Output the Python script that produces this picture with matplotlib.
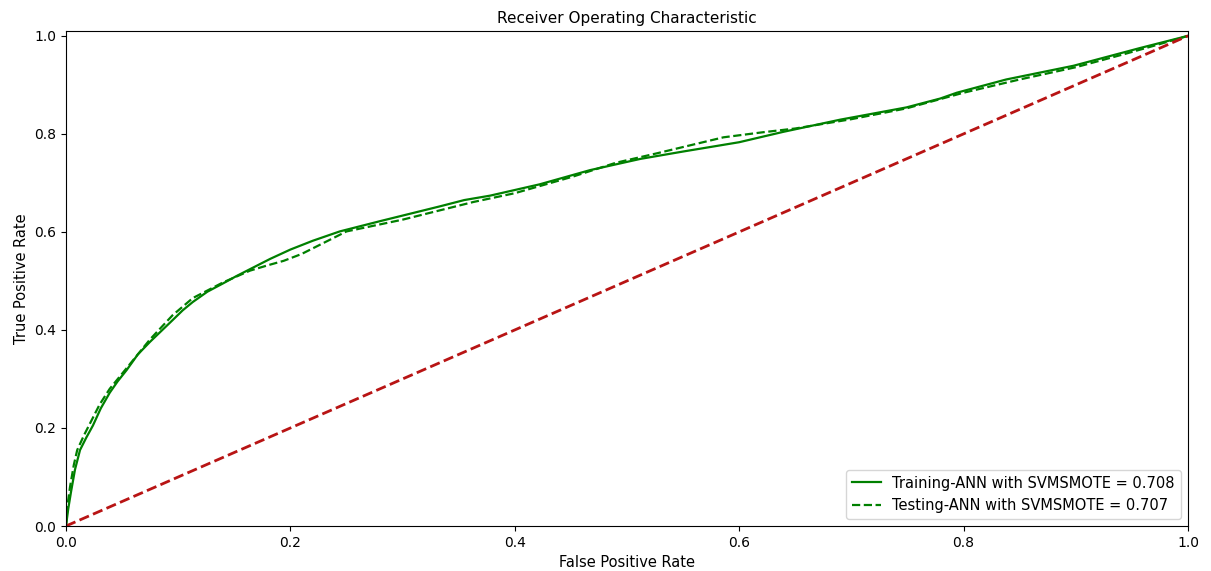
import matplotlib
matplotlib.use("Agg")
import matplotlib.pyplot as plt

# Training ROC curve (solid)
train_fpr = [0.0, 0.002, 0.0045, 0.008, 0.0125, 0.018, 0.024, 0.031, 0.039, 0.046,
             0.054, 0.064, 0.075, 0.085, 0.095, 0.104, 0.113, 0.126, 0.14, 0.152,
             0.164, 0.182, 0.2, 0.22, 0.244, 0.28, 0.333, 0.355, 0.378, 0.422,
             0.467, 0.512, 0.55, 0.6, 0.639, 0.69, 0.749, 0.779, 0.794, 0.838,
             0.898, 0.957, 1.0]
train_tpr = [0.0, 0.035, 0.07, 0.115, 0.155, 0.18, 0.205, 0.24, 0.272, 0.295,
             0.318, 0.35, 0.376, 0.398, 0.42, 0.44, 0.457, 0.478, 0.495, 0.51,
             0.524, 0.545, 0.564, 0.582, 0.601, 0.622, 0.652, 0.665, 0.674, 0.697,
             0.726, 0.749, 0.764, 0.783, 0.804, 0.829, 0.854, 0.872, 0.884, 0.911,
             0.939, 0.975, 1.0]

# Testing ROC curve (dashed)
test_fpr = [0.0, 0.0015, 0.0036, 0.007, 0.01, 0.016, 0.022, 0.03, 0.039, 0.054,
            0.075, 0.095, 0.113, 0.14, 0.164, 0.18, 0.194, 0.21, 0.23, 0.25,
            0.3, 0.363, 0.4, 0.452, 0.49, 0.526, 0.586, 0.62, 0.65, 0.7,
            0.749, 0.8, 0.85, 0.9, 0.942, 0.97, 1.0]
test_tpr = [0.0, 0.045, 0.08, 0.125, 0.155, 0.185, 0.212, 0.248, 0.28, 0.322,
            0.381, 0.43, 0.465, 0.497, 0.521, 0.532, 0.541, 0.555, 0.578, 0.601,
            0.625, 0.661, 0.679, 0.713, 0.741, 0.76, 0.793, 0.803, 0.811, 0.83,
            0.852, 0.884, 0.911, 0.936, 0.962, 0.98, 1.0]

diag = [0.0, 1.0]

train_label = "Training-ANN with SVMSMOTE = 0.708"
test_label = "Testing-ANN with SVMSMOTE = 0.707"

fig = plt.figure(figsize=(12.11, 5.71), dpi=100)
ax = fig.add_axes([0.0545, 0.0788, 0.9265, 0.867])

ax.plot(train_fpr, train_tpr, color="green", lw=1.6, label=train_label)
ax.plot(test_fpr, test_tpr, color="green", lw=1.6, ls="--", label=test_label)
ax.plot(diag, diag, color="#b81414", lw=2, ls="--")

ax.set_xlim(0, 1)
ax.set_ylim(0, 1.01)
ax.set_xticks([0.0, 0.2, 0.4, 0.6, 0.8, 1.0])
ax.set_yticks([0.0, 0.2, 0.4, 0.6, 0.8, 1.0])
ax.tick_params(labelsize=10)
ax.set_title("Receiver Operating Characteristic", fontsize=11)
ax.set_xlabel("False Positive Rate", fontsize=10.5)
ax.set_ylabel("True Positive Rate", fontsize=10.5)
ax.legend(loc="lower right", fontsize=10.5)

fig.savefig("out.png", dpi=100)
